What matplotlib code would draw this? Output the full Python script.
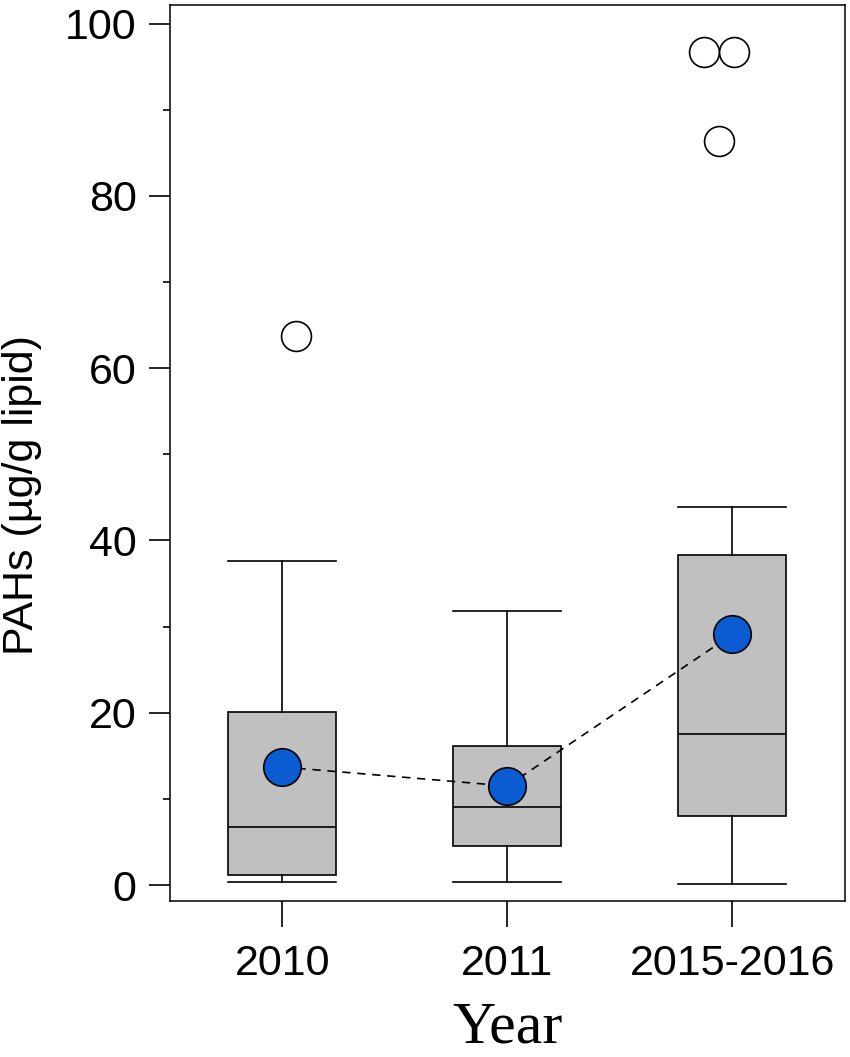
import matplotlib.pyplot as plt
import numpy as np

# values (ug/g lipid)
groups = ["2010", "2011", "2015-2016"]
whislo = [0.4, 0.4, 0.1]
q1 = [1.2, 4.5, 8.0]
med = [6.7, 9.1, 17.5]
q3 = [20.1, 16.1, 38.3]
whishi = [37.6, 31.8, 43.9]
means = [13.7, 11.5, 29.1]
outliers = [[63.7], [], [96.7, 96.7, 86.4]]
out_jitter = [[0.06], [], [-0.125, 0.005, -0.06]]

plt.rcParams['font.family'] = ['Liberation Sans', 'DejaVu Sans']

fig = plt.figure(figsize=(8.5, 10.57), dpi=100)
ax = fig.add_axes([0.2, 0.148, 0.794, 0.8476])

pos = np.arange(1, len(groups) + 1)
stats = []
for i in range(len(groups)):
    stats.append(dict(med=med[i], q1=q1[i], q3=q3[i],
                      whislo=whislo[i], whishi=whishi[i], fliers=[]))

ax.bxp(stats, positions=pos, widths=0.48, showfliers=False, patch_artist=True,
       boxprops=dict(facecolor="#c0c0c0", edgecolor="black", linewidth=1.2),
       medianprops=dict(color="black", linewidth=1.2),
       whiskerprops=dict(color="black", linewidth=1.2),
       capprops=dict(color="black", linewidth=1.2),
       capwidths=0.48, zorder=2)

for i in range(len(groups)):
    xs = [pos[i] + j for j in out_jitter[i]]
    ax.plot(xs, outliers[i], 'o', ms=21.5, mfc="white", mec="black", mew=1.2,
            zorder=3, clip_on=False)

ax.plot(pos, means, '--', color="black", lw=1.2, dashes=(5, 4), zorder=4)
ax.plot(pos, means, 'o', ms=27, mfc="#0b5bd3", mec="black", mew=1.2, zorder=5)

ax.set_xlim(0.5, 3.5)
ax.set_ylim(-1.8, 102.2)
ax.set_xticks(pos)
ax.set_xticklabels(groups)
ax.set_yticks(np.arange(0, 101, 20))
ax.set_yticks(np.arange(10, 100, 20), minor=True)
ax.tick_params(axis='y', which='major', length=15, width=1.2, labelsize=31, pad=9)
ax.tick_params(axis='y', which='minor', length=5, width=1.2)
ax.tick_params(axis='x', which='major', length=19, width=1.2, labelsize=31, pad=12)
for s in ax.spines.values():
    s.set_linewidth(1.1)

ax.set_ylabel("PAHs (µg/g lipid)", fontsize=31)
ax.yaxis.set_label_coords(-0.19, 0.453)
ax.set_xlabel("Year", fontsize=43, family="Liberation Serif", labelpad=13)

fig.savefig("out.png", dpi=100)
